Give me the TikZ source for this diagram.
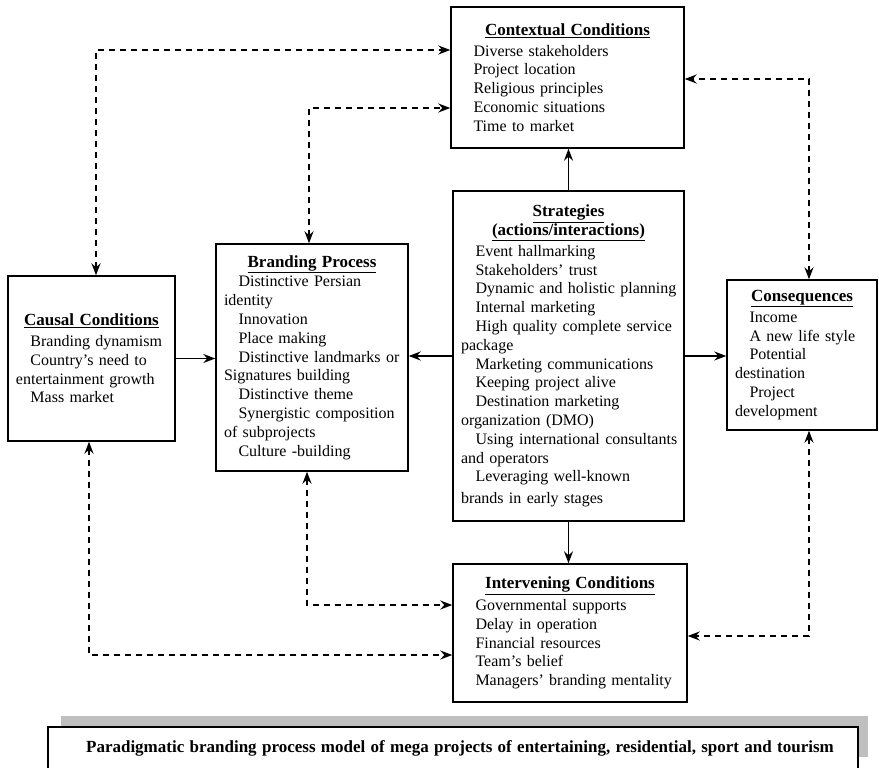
\documentclass[tikz,border=0pt]{standalone}
\usepackage{fontspec}
\setmainfont{Liberation Serif}
\usetikzlibrary{arrows.meta}
\tikzstyle{box}=[draw=black,line width=1.4pt,inner xsep=8pt,inner ysep=0pt,align=left,font=\fontsize{16}{18.8}\selectfont]
\tikzstyle{arr}=[line width=1.5pt,-{Stealth[length=12pt,width=9pt,inset=4pt]}]
\tikzstyle{dline}=[line width=1.8pt,dash pattern=on 6.5pt off 4.5pt,{Stealth[length=12pt,width=9pt,inset=4pt]}-{Stealth[length=12pt,width=9pt,inset=4pt]}]
\newcommand{\ttl}[1]{\makebox[\linewidth]{\fontsize{17}{18.8}\selectfont\textbf{\underline{#1}}}}
\newcommand{\itm}[1]{\mbox{\hspace*{14.5pt}#1}}
\newcommand{\cnt}[1]{\mbox{#1}}

\begin{document}
\begin{tikzpicture}[x=1pt,y=-1pt]
\useasboundingbox (0,0) rectangle (879,768);
\node[box,text width=217pt,minimum height=141pt] (context) at (567.5,77.5) {\ttl{Contextual Conditions}\\[2pt]
\itm{Diverse stakeholders}\\
\itm{Project location}\\
\itm{Religious principles}\\
\itm{Economic situations}\\
\itm{Time to market}};
\node[box,text width=215pt,minimum height=330pt] (strat) at (568.5,356) {\ttl{Strategies}\\
\ttl{(actions/interactions)}\\[2pt]
\itm{Event hallmarking}\\
\itm{Stakeholders' trust}\\
\itm{Dynamic and holistic planning}\\
\itm{Internal marketing}\\
\itm{High quality complete service}\\
\cnt{package}\\
\itm{Marketing communications}\\
\itm{Keeping project alive}\\
\itm{Destination marketing}\\
\cnt{organization (DMO)}\\
\itm{Using international consultants}\\
\cnt{and operators}\\
\itm{Leveraging well-known}\\[3pt]
\cnt{brands in early stages}};
\node[box,text width=134pt,minimum height=150pt] (conseq) at (802,355) {\ttl{Consequences}\\[2pt]
\itm{Income}\\
\itm{A new life style}\\
\itm{Potential}\\
\cnt{destination}\\
\itm{Project}\\
\cnt{development}};
\node[box,text width=151pt,minimum height=165pt] (causal) at (91.5,358.5) {\ttl{Causal Conditions}\\[2pt]
\itm{Branding dynamism}\\
\itm{Country's need to}\\
\cnt{entertainment growth}\\
\itm{Mass market}};
\node[box,text width=176pt,minimum height=227pt] (brand) at (312,357.5) {\ttl{Branding Process}\\[1pt]
\itm{Distinctive Persian}\\
\cnt{identity}\\
\itm{Innovation}\\
\itm{Place making}\\
\itm{Distinctive landmarks or}\\
\cnt{Signatures building}\\
\itm{Distinctive theme}\\
\itm{Synergistic composition}\\
\cnt{of subprojects}\\
\itm{Culture -building}};
\node[box,text width=218pt,minimum height=138pt] (interv) at (570,633) {\ttl{Intervening Conditions}\\[3pt]
\itm{Governmental supports}\\
\itm{Delay in operation}\\
\itm{Financial resources}\\
\itm{Team's belief}\\
\itm{Managers' branding mentality}};
\fill[gray!50] (61,716) rectangle (868,757);
\node[box,fill=white,text width=794pt,minimum height=42pt,align=center] (caption) at (453,748) {\hspace*{14pt}\fontsize{17}{18.8}\selectfont\textbf{Paradigmatic branding process model of mega projects of entertaining, residential, sport and tourism}};
\draw[arr] (strat.north) -- (strat.north |- context.south);
\draw[arr] (strat.south) -- (strat.south |- interv.north);
\draw[arr] (causal.east) -- (causal.east -| brand.west);
\draw[arr] (strat.west) -- (strat.west -| brand.east);
\draw[arr] (strat.east) -- (strat.east -| conseq.west);
\draw[dline] ([xshift=4.5pt]causal.north) |- ([yshift=27.5pt]context.west);
\draw[dline] ([xshift=-3pt]brand.north) |- ([yshift=-30.5pt]context.west);
\draw[dline] ([xshift=7pt]conseq.north) |- ([yshift=-1.5pt]context.east);
\draw[dline] ([xshift=-2.5pt]causal.south) |- ([yshift=-22pt]interv.west);
\draw[dline] ([xshift=-5pt]brand.south) |- ([yshift=28pt]interv.west);
\draw[dline] ([xshift=7pt]conseq.south) |- ([yshift=-3pt]interv.east);
\end{tikzpicture}
\end{document}
